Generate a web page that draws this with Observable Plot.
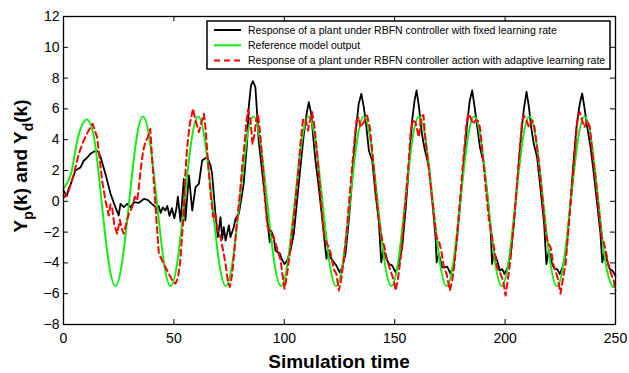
<!DOCTYPE html>
<html><head><meta charset="utf-8">
<script src="https://cdn.jsdelivr.net/npm/d3@7"></script>
<script src="https://cdn.jsdelivr.net/npm/@observablehq/plot@0.6"></script>
<style>
body{margin:0;background:#fff;}
#chart{width:629px;height:373px;}
</style>
</head><body><div id="chart"></div>
<script>
// ---- data ----
const xTicks = [0, 50, 100, 150, 200, 250];
const yTicks = [-8, -6, -4, -2, 0, 2, 4, 6, 8, 10, 12];
const seriesNames = [
  "Response of a plant under RBFN controller with fixed learning rate",
  "Reference model output",
  "Response of a plant under RBFN controller action with adaptive learning rate"
];
const seriesColors = ["#000000", "#11ee11", "#ff0000"];

// Reference model output (green)
const reference = [[0,0.8],[3.2,1.7],[5.4,3.3],[7.7,4.7],[10.8,5.3],[14.1,3.9],[17.25,0],[20.4,-3.9],[23.5,-5.5],[26.6,-3.9],[29.75,0],[32.9,3.9],[36,5.5],[39.1,3.9],[42.25,0],[45.4,-3.9],[48.5,-5.5],[51.6,-3.9],[54.75,0],[57.9,3.9],[61,5.5],[64.1,3.9],[67.25,0],[70.4,-3.9],[73.5,-5.5],[76.6,-3.9],[79.75,0],[82.9,3.9],[86,5.5],[89.1,3.9],[92.25,0],[95.4,-3.9],[98.5,-5.5],[101.6,-3.9],[104.75,0],[107.9,3.9],[111,5.5],[114.1,3.9],[117.25,0],[120.4,-3.9],[123.5,-5.5],[126.6,-3.9],[129.75,0],[132.9,3.9],[136,5.5],[139.1,3.9],[142.25,0],[145.4,-3.9],[148.5,-5.5],[151.6,-3.9],[154.75,0],[157.9,3.9],[161,5.5],[164.1,3.9],[167.25,0],[170.4,-3.9],[173.5,-5.5],[176.6,-3.9],[179.75,0],[182.9,3.9],[186,5.5],[189.1,3.9],[192.25,0],[195.4,-3.9],[198.5,-5.5],[201.6,-3.9],[204.75,0],[207.9,3.9],[211,5.5],[214.1,3.9],[217.25,0],[220.4,-3.9],[223.5,-5.5],[226.6,-3.9],[229.75,0],[232.9,3.9],[236,5.5],[239.1,3.9],[242.25,0],[245.4,-3.9],[248.5,-5.5],[250,-5.4]];

// Plant under RBFN controller, fixed learning rate (black)
const fixedRate = [[0,0.7],[0.8,0.5],[1.5,0.35],[2.3,0.8],[3.2,1.1],[4.2,1.5],[5.4,2.0],[6.5,2.1],[7.7,2.2],[9.2,2.65],[10.5,2.8],[12.2,3.08],[13.5,3.2],[14.9,3.3],[15.8,3.2],[16.8,2.87],[19.0,1.78],[21.3,0.49],[23.5,-0.38],[25.0,-0.92],[25.8,-0.17],[27.3,-0.38],[28.8,-0.17],[30.3,-0.38],[31.9,-0.06],[34.1,-0.1],[36.4,0.15],[38.1,0.09],[40.0,-0.17],[41.5,-0.34],[42.3,-0.6],[43.1,-0.3],[44.0,-0.75],[45.0,-0.4],[46.1,-0.6],[47.0,-0.3],[48.0,-0.95],[49.1,-0.45],[50.2,-1.1],[51.1,-0.5],[51.8,0.3],[53.0,-1.3],[54.5,1.46],[55.2,-1.25],[56.8,1.68],[58.3,-0.6],[59.8,0.92],[61.3,1.13],[62.8,2.65],[63.9,2.76],[65.1,2.86],[66.6,2.32],[67.3,1.78],[68.8,-0.81],[69.9,-2.33],[71.1,-1.03],[71.9,-2.44],[72.6,-1.68],[73.4,-2.55],[74.9,-1.57],[75.6,-2.33],[77.1,-1.68],[77.9,-1.14],[79.4,-0.81],[80.9,0.48],[81.6,1.13],[83.1,3.73],[83.9,6.11],[84.9,7.52],[85.8,7.8],[86.9,7.41],[87.6,5.9],[88.4,3.95],[89.9,2.0],[91.4,0.05],[92.5,-1.47],[93.4,-2.66],[94.0,-1.9],[95.2,-2.33],[96.0,-3.2],[97.1,-3.3],[98.0,-3.4],[99.1,-3.85],[100.1,-4.07],[101.3,-3.85],[102.8,-3.2],[104.3,-2.11],[105.8,0.05],[107.3,2.21],[108.8,4.3],[110.1,5.68],[111.1,6.44],[112.2,5.68],[113.1,4.16],[114.1,2.65],[115.6,0.92],[117.1,-1.03],[118.2,-2.55],[119.1,-3.74],[119.7,-3.2],[120.9,-3.63],[122.4,-3.96],[123.6,-4.18],[125.1,-4.61],[126.2,-4.29],[127.7,-3.42],[129.2,-1.25],[130.7,1.35],[132.2,4.38],[133.7,6.33],[134.9,6.98],[136.0,6.11],[137.2,4.81],[138.3,3.3],[139.8,2.65],[141.3,0.48],[142.8,-1.25],[143.9,-3.96],[144.8,-3.2],[145.9,-3.63],[147.4,-4.07],[148.9,-4.18],[150.4,-4.61],[151.9,-4.07],[153.4,-2.98],[154.9,-0.6],[156.4,2.21],[157.9,5.25],[159.0,6.55],[159.9,7.2],[161.0,6.11],[162.2,4.5],[163.4,3.5],[165.5,2.21],[167.0,0.05],[168.5,-2.33],[169.0,-3.96],[170.0,-3.42],[171.5,-4.29],[172.6,-4.29],[173.8,-4.25],[175.3,-4.72],[176.8,-4.07],[178.3,-2.33],[179.8,0.05],[181.3,2.65],[182.8,5.03],[184.0,6.55],[185.1,7.2],[186.2,6.11],[187.4,4.81],[188.6,3.51],[190.4,2.43],[191.9,0.48],[193.4,-1.68],[194.1,-4.07],[194.9,-3.31],[196.4,-3.85],[197.6,-4.5],[198.7,-4.4],[199.7,-4.72],[201.2,-4.29],[202.7,-3.2],[204.2,-1.03],[205.7,1.57],[207.3,4.38],[208.5,6.0],[209.7,7.1],[210.8,6.11],[211.8,4.81],[213.0,3.73],[214.5,2.86],[216.1,0.7],[217.7,-1.5],[218.7,-4.07],[219.8,-3.2],[221.3,-4.07],[222.4,-4.4],[223.6,-4.4],[224.8,-4.72],[226.3,-4.18],[227.8,-2.98],[229.3,-0.6],[230.8,2.21],[232.3,4.81],[233.8,6.33],[234.9,7.0],[235.9,6.11],[237.2,4.81],[238.7,3.51],[240.2,1.78],[241.7,-0.17],[243.2,-2.11],[244.0,-3.96],[245.0,-3.31],[246.2,-3.85],[247.4,-4.4],[248.5,-4.5],[250,-4.83]];

// Plant under RBFN controller, adaptive learning rate (red dashed)
const adaptiveRate = [[0,0.4],[0.5,0.27],[2.4,0.69],[4.7,1.78],[6.9,3.08],[9,3.9],[11,4.5],[13.2,5.03],[15.2,4.17],[16.5,2.65],[17.5,1.35],[19.0,0.05],[20.5,-0.92],[21.3,-0.2],[22.0,-0.38],[23.0,-1.5],[24.3,-2.11],[25.5,-1.2],[26.5,-1.8],[27.3,-2.11],[28.5,-1.4],[29.6,-0.81],[31.1,-0.38],[32.3,0.3],[33.4,0.05],[34.2,1.0],[34.9,2.0],[36.1,3.3],[37.1,3.84],[38.2,4.17],[39.3,4.7],[40.2,2.65],[41.2,0.7],[42.1,-1.25],[43.2,-3.42],[43.9,-3.6],[45.4,-4.07],[46.6,-4.4],[48.4,-4.9],[49.5,-5.2],[50.7,-5.35],[51.8,-5.0],[52.9,-3.85],[54.2,-1.25],[55.2,1.78],[56.0,3.51],[57.2,5.03],[58.7,6.01],[59.8,5.25],[61.3,4.5],[62.3,5.03],[63.6,5.68],[64.3,4.81],[65.4,2.65],[66.6,0.48],[67.8,-1.03],[68.8,-0.81],[69.9,-1.9],[71.1,-2.33],[72.3,-3.2],[73.4,-4.07],[74.4,-5.14],[75.3,-5.57],[76.4,-4.72],[77.4,-3.2],[78.6,-1.25],[79.9,0.48],[80.9,2.21],[82.0,3.73],[82.9,5.25],[83.6,5.95],[84.7,5.25],[85.6,3.7],[86.5,4.38],[87.4,5.35],[88.1,5.68],[89.2,4.17],[90.4,2.0],[91.4,-0.17],[92.3,-1.6],[93.0,-1.8],[94.5,-2.2],[95.8,-2.6],[97.0,-3.2],[98.3,-3.8],[99.2,-4.8],[100.1,-5.68],[101.3,-4.72],[102.8,-2.98],[104.3,-1.03],[105.8,1.13],[107.3,3.73],[108.5,5.3],[109.6,5.4],[110.7,4.6],[111.6,5.2],[112.6,5.79],[113.7,4.81],[114.9,3.08],[116.1,0.92],[117.1,-0.81],[118.2,-2.33],[119.4,-2.76],[120.1,-2.98],[120.9,-3.31],[122.4,-4.4],[123.6,-4.72],[124.7,-5.79],[125.7,-5.14],[126.9,-3.85],[128.4,-1.68],[129.9,0.92],[131.5,3.51],[132.7,5.25],[133.7,5.47],[134.5,4.81],[136.0,5.14],[137.5,5.57],[138.7,4.81],[139.8,3.3],[141.3,0.92],[142.8,-1.25],[144.4,-2.55],[145.4,-2.98],[146.6,-3.85],[148.1,-4.5],[149.6,-5.14],[150.4,-5.79],[151.4,-5.14],[152.9,-3.42],[154.4,-0.81],[155.9,1.78],[157.2,4.38],[157.9,5.25],[159.4,5.14],[160.9,4.17],[162.0,5.47],[163.0,5.6],[164.0,3.9],[165.9,1.57],[167.4,-0.38],[168.9,-2.33],[170.0,-2.55],[171.1,-3.2],[172.3,-4.29],[173.5,-4.72],[175.0,-5.79],[176.0,-5.14],[177.1,-4.07],[178.3,-2.11],[179.8,0.48],[181.3,3.08],[182.5,5.03],[183.3,5.68],[184.3,5.47],[185.4,5.03],[186.6,5.25],[187.6,5.25],[188.6,4.81],[189.7,3.3],[191.2,0.92],[192.7,-1.25],[194.1,-2.33],[195.2,-3.2],[196.4,-4.29],[197.9,-4.72],[199.1,-5.14],[200.2,-6.12],[201.2,-5.14],[202.4,-3.85],[203.9,-1.47],[205.4,1.13],[206.6,3.3],[207.7,5.25],[208.5,5.57],[209.7,5.25],[210.8,4.81],[212.3,5.25],[213.3,4.81],[214.5,3.51],[216.0,1.57],[217.4,-0.6],[218.5,-2.11],[219.3,-2.66],[220.6,-2.98],[221.8,-4.07],[222.8,-4.5],[223.9,-5.03],[225.1,-6.0],[226.3,-4.94],[227.4,-4.07],[228.9,-1.47],[230.4,1.13],[231.9,3.73],[232.9,5.47],[233.8,5.79],[234.9,5.25],[235.9,4.81],[237.2,5.25],[238.4,4.81],[239.4,3.3],[241.0,1.35],[242.5,-0.6],[243.7,-2.33],[244.7,-2.66],[245.9,-3.42],[247.0,-4.29],[248.0,-4.72],[249.2,-5.14],[250,-5.79]];

// ---- chart ----
const font = "Arial, 'Liberation Sans', sans-serif";
const px = d => d[0], py = d => d[1];
const W = 629, H = 373, mL = 63, mR = 14, mT = 16, mB = 49;
const innerW = W - mL - mR, innerH = H - mT - mB, tick = 5;
const chart = Plot.plot({
  width: W, height: H,
  marginLeft: mL, marginRight: mR, marginTop: mT, marginBottom: mB,
  style: {fontFamily: font, color: "#000", background: "#fff"},
  x: {domain: [0, 250], ticks: xTicks},
  y: {domain: [-8, 12], ticks: yTicks},
  marks: [
    Plot.line(fixedRate, {x: px, y: py, stroke: seriesColors[0], strokeWidth: 1.8}),
    Plot.line(reference, {x: px, y: py, stroke: seriesColors[1], strokeWidth: 2, curve: "natural"}),
    Plot.line(adaptiveRate, {x: px, y: py, stroke: seriesColors[2], strokeWidth: 2, strokeDasharray: "6,4"}),
    // inward tick marks on all four sides
    Plot.tickX(xTicks, {x: d => d, insetTop: innerH - tick, stroke: "#000"}),
    Plot.tickX(xTicks, {x: d => d, insetBottom: innerH - tick, stroke: "#000"}),
    Plot.tickY(yTicks, {y: d => d, insetRight: innerW - tick, stroke: "#000"}),
    Plot.tickY(yTicks, {y: d => d, insetLeft: innerW - tick, stroke: "#000"}),
    // tick labels
    Plot.axisX({anchor: "bottom", ticks: xTicks, tickSize: 0, tickPadding: 9, fontSize: 14, label: null}),
    Plot.axisY({anchor: "left", ticks: yTicks, tickSize: 0, tickPadding: 4, fontSize: 14, label: null}),
    Plot.frame({stroke: "#000", strokeWidth: 1.3})
  ]
});
document.getElementById("chart").appendChild(chart);

const svg = d3.select(chart);
// x label
svg.append("text").attr("x", 339).attr("y", 368).attr("text-anchor", "middle")
  .attr("font-family", font).attr("font-weight", "bold").attr("font-size", 19)
  .text("Simulation time");
// y label with subscripts
const yl = svg.append("text").attr("transform", "translate(27,166) rotate(-90)")
  .attr("text-anchor", "middle").attr("font-family", font).attr("font-weight", "bold").attr("font-size", 19);
yl.append("tspan").text("Y");
yl.append("tspan").attr("font-size", 14).attr("dy", 6).text("p");
yl.append("tspan").attr("dy", -6).text("(k) and Y");
yl.append("tspan").attr("font-size", 14).attr("dy", 6).text("d");
yl.append("tspan").attr("dy", -6).text("(k)");

// legend
const lg = svg.append("g");
lg.append("rect").attr("x", 207).attr("y", 21).attr("width", 403).attr("height", 48)
  .attr("fill", "#fff").attr("stroke", "#000").attr("stroke-width", 1.5);
seriesNames.forEach((name, i) => {
  const yy = 30 + i * 15.3;
  lg.append("line").attr("x1", 214).attr("x2", 241).attr("y1", yy).attr("y2", yy)
    .attr("stroke", seriesColors[i]).attr("stroke-width", 2)
    .attr("stroke-dasharray", i === 2 ? "6,4" : null);
  lg.append("text").attr("x", 248).attr("y", yy).attr("dy", "0.35em")
    .attr("text-anchor", "start")
    .attr("font-family", font).attr("font-size", 10.5).text(name);
});
</script>
</body></html>
